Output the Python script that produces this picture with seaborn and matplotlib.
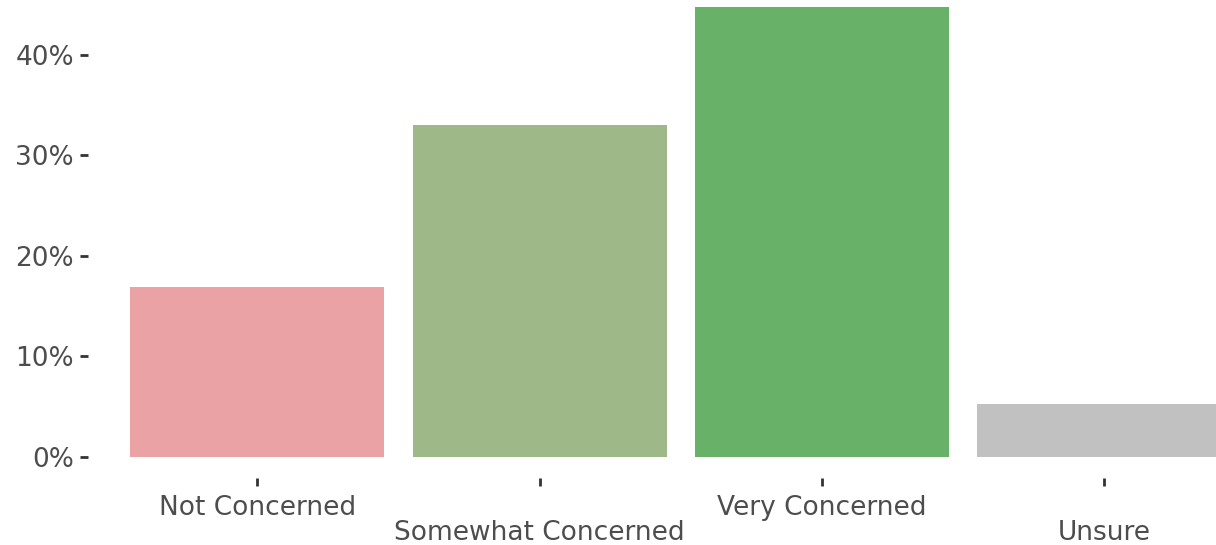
import pandas as pd
import matplotlib
matplotlib.use("Agg")
import matplotlib.pyplot as plt
import seaborn as sns
from matplotlib.ticker import PercentFormatter

# Data
categories = ["Not Concerned", "Somewhat Concerned", "Very Concerned", "Unsure"]
shares = [0.169, 0.330, 0.448, 0.053]
bar_colors = ["#EAA2A4", "#9FB888", "#67B268", "#C1C1C1"]
tick_labels = ["Not Concerned", "\nSomewhat Concerned", "Very Concerned", "\nUnsure"]
y_ticks = [0, 0.1, 0.2, 0.3, 0.4]

df = pd.DataFrame({"category": categories, "share": shares})

sns.set_style("white")
plt.rcParams["font.family"] = ["DejaVu Sans"]

fig = plt.figure(figsize=(12.16, 5.45), dpi=100)
ax = fig.add_axes([88 / 1216, 67 / 545, 1128 / 1216, 478 / 545])

sns.barplot(data=df, x="category", y="share", hue="category",
            palette=dict(zip(categories, bar_colors)), width=0.9,
            saturation=1, legend=False, linewidth=0, ax=ax)

ax.set_xlim(-0.6, 3.396)
ax.set_ylim(-0.0209, 0.4547)
ax.set_yticks(y_ticks)
ax.yaxis.set_major_formatter(PercentFormatter(1.0, decimals=0))
ax.set_xticks(range(len(categories)))
ax.set_xticklabels(tick_labels)
ax.set_xlabel("")
ax.set_ylabel("")

for s in ax.spines.values():
    s.set_visible(False)

ax.tick_params(axis="both", direction="out", length=6, width=2,
               color="#333333", labelcolor="#4D4D4D", labelsize=19)
ax.tick_params(axis="x", pad=6, bottom=True)
ax.tick_params(axis="y", pad=4, left=True)
for lbl in ax.get_xticklabels():
    lbl.set_linespacing(0.95)

fig.savefig("out.png", dpi=100)
